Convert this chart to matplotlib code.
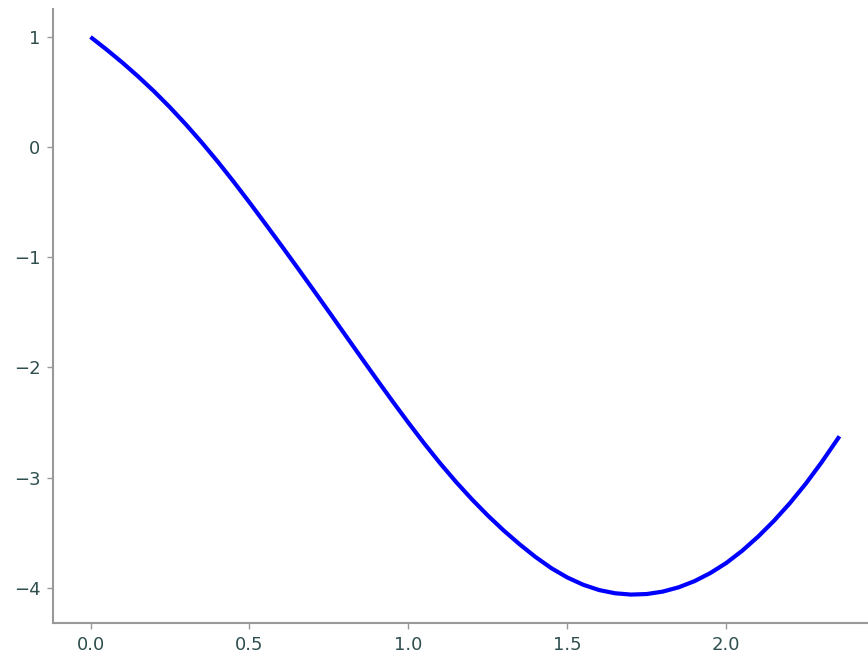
import matplotlib
matplotlib.use("Agg")
import matplotlib.pyplot as plt

x_values = [0.00, 0.05, 0.10, 0.15, 0.20, 0.25, 0.30, 0.35, 0.40, 0.45,
            0.50, 0.55, 0.60, 0.65, 0.70, 0.75, 0.80, 0.85, 0.90, 0.95,
            1.00, 1.05, 1.10, 1.15, 1.20, 1.25, 1.30, 1.35, 1.40, 1.45,
            1.50, 1.55, 1.60, 1.65, 1.70, 1.75, 1.80, 1.85, 1.90, 1.95,
            2.00, 2.05, 2.10, 2.15, 2.20, 2.25, 2.30, 2.356]
y_values = [1.000, 0.887, 0.768, 0.641, 0.506, 0.361, 0.206, 0.042, -0.131,
            -0.313, -0.502, -0.696, -0.892, -1.091, -1.292, -1.495, -1.700,
            -1.904, -2.107, -2.307, -2.502, -2.691, -2.871, -3.040, -3.198,
            -3.345, -3.481, -3.606, -3.721, -3.823, -3.907, -3.973, -4.021,
            -4.050, -4.062, -4.057, -4.035, -3.996, -3.940, -3.866, -3.775,
            -3.664, -3.536, -3.392, -3.232, -3.055, -2.860, -2.625]
x_ticks = [0.0, 0.5, 1.0, 1.5, 2.0]
y_ticks = [1, 0, -1, -2, -3, -4]

fig = plt.figure(figsize=(8.68, 6.56), dpi=100)
ax = fig.add_axes([53 / 868, 33 / 656, 824 / 868, 614 / 656])
ax.plot(x_values, y_values, color="#0000ff", lw=3, solid_capstyle="butt",
        solid_joinstyle="round")

ax.set_xlim(-0.118, 2.474)
ax.set_ylim(-4.32, 1.254)
ax.set_xticks(x_ticks)
ax.set_yticks(y_ticks)
ax.set_xticklabels([f"{t:.1f}" for t in x_ticks])
ax.set_yticklabels([f"{t}".replace("-", "\u2212") for t in y_ticks])

for s in ["top", "right"]:
    ax.spines[s].set_visible(False)
for s in ["left", "bottom"]:
    ax.spines[s].set_color("#999999")
    ax.spines[s].set_linewidth(1.5)
ax.tick_params(colors="#999999", labelcolor="#2f4f4f", labelsize=13,
               length=4, width=1, pad=5)

fig.savefig("out.png", dpi=100)
